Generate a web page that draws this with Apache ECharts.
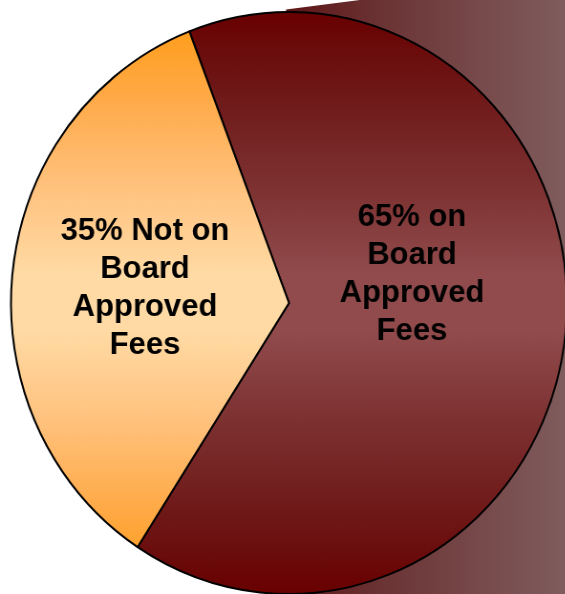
<!DOCTYPE html>
<html>
<head>
<meta charset="utf-8">
<script src="https://cdn.jsdelivr.net/npm/echarts@6/dist/echarts.min.js"></script>
<style>
  html, body { margin: 0; padding: 0; background: #ffffff; }
  #wrap { width: 565px; height: 594px; overflow: hidden; position: relative; }
  /* the pie is a slightly tall ellipse: draw it round and squeeze horizontally */
  #chart { width: 592px; height: 594px; transform: scaleX(0.9553); transform-origin: 0 0; }
</style>
</head>
<body>
<div id="wrap"><div id="chart"></div></div>
<script>
// Share of fees by board approval status
const categories = ['on Board Approved Fees', 'Not on Board Approved Fees'];
const shares = [65, 35];
const labelTexts = [
  shares[0] + '% on\nBoard\nApproved\nFees',
  shares[1] + '% Not on\nBoard\nApproved\nFees'
];

const SX = 0.9553;           // horizontal squeeze applied to the chart element
const unsqueeze = x => x / SX;

const redFill = {
  type: 'linear', x: 0, y: 12, x2: 0, y2: 594, global: true,
  colorStops: [
    { offset: 0, color: '#690000' },
    { offset: 0.12, color: '#6d1515' },
    { offset: 0.3, color: '#7d3131' },
    { offset: 0.45, color: '#914b4c' },
    { offset: 0.55, color: '#914b4c' },
    { offset: 0.7, color: '#7d3131' },
    { offset: 0.88, color: '#6d1515' },
    { offset: 1, color: '#690000' }
  ]
};
const orangeFill = {
  type: 'linear', x: 0, y: 12, x2: 0, y2: 594, global: true,
  colorStops: [
    { offset: 0, color: '#ff9a12' },
    { offset: 0.15, color: '#ffaa48' },
    { offset: 0.3, color: '#ffc27e' },
    { offset: 0.45, color: '#ffdaa4' },
    { offset: 0.55, color: '#ffdaa4' },
    { offset: 0.7, color: '#ffc27e' },
    { offset: 0.85, color: '#ffaa48' },
    { offset: 1, color: '#ff9a12' }
  ]
};
const fills = [redFill, orangeFill];

const chart = echarts.init(document.getElementById('chart'), null, { renderer: 'canvas' });

const labelFont = {
  fill: '#000000',
  fontSize: 31,
  fontWeight: 'bold',
  fontFamily: '"Liberation Sans", Arial, sans-serif',
  lineHeight: 38,
  align: 'center',
  verticalAlign: 'middle'
};

chart.setOption({
  animation: false,
  backgroundColor: '#ffffff',
  graphic: [
    {
      // shaded backdrop behind the right side of the pie
      type: 'polygon',
      z: 0,
      silent: true,
      shape: {
        points: [[unsqueeze(286), 9.5], [620, -30], [620, 610], [unsqueeze(300), 610]]
      },
      style: {
        fill: {
          type: 'linear', x: unsqueeze(286), y: 0, x2: unsqueeze(565), y2: 0, global: true,
          colorStops: [
            { offset: 0, color: '#5e1516' },
            { offset: 0.35, color: '#6b3435' },
            { offset: 0.7, color: '#774a4b' },
            { offset: 1, color: '#7f5c5d' }
          ]
        }
      }
    },
    {
      type: 'text',
      z: 100,
      silent: true,
      x: unsqueeze(412),
      y: 274,
      scaleX: 1 / SX,
      style: Object.assign({ text: labelTexts[0] }, labelFont)
    },
    {
      type: 'text',
      z: 100,
      silent: true,
      x: unsqueeze(145),
      y: 288,
      scaleX: 1 / SX,
      style: Object.assign({ text: labelTexts[1] }, labelFont)
    }
  ],
  series: [
    {
      type: 'pie',
      z: 2,
      center: [unsqueeze(289), 303],
      radius: 291,
      startAngle: 111,
      clockwise: true,
      label: { show: false },
      labelLine: { show: false },
      emphasis: { disabled: true },
      itemStyle: { borderColor: '#000000', borderWidth: 2 },
      data: categories.map((name, i) => ({
        name: name,
        value: shares[i],
        itemStyle: { color: fills[i] }
      }))
    }
  ]
});
</script>
</body>
</html>
